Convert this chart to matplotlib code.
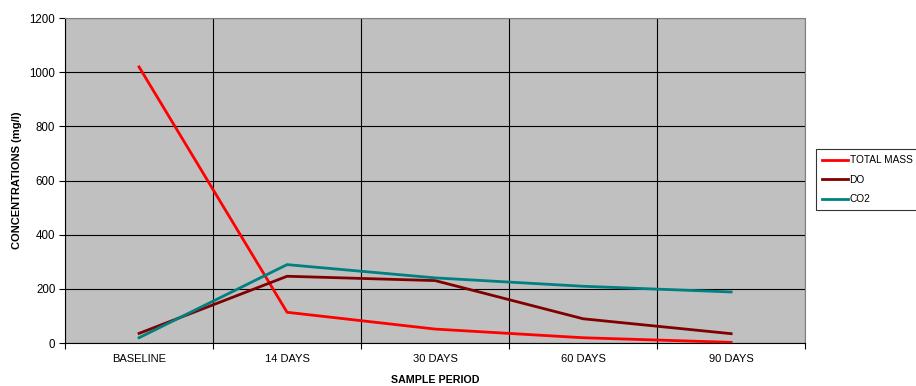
import numpy as np
import matplotlib.pyplot as plt

plt.rcParams["font.family"] = ["Liberation Sans", "DejaVu Sans"]

categories = ['BASELINE', '14 DAYS', '30 DAYS', '60 DAYS', '90 DAYS']
total_mass = [1020, 114, 52, 20, 3]
do = [36, 247, 231, 90, 35]
co2 = [20, 290, 241, 210, 189]

x = np.arange(len(categories))

fig = plt.figure(figsize=(9.16, 3.86), dpi=100)
ax = fig.add_axes([0.071, 0.111, 0.808, 0.842])
ax.set_facecolor('#C0C0C0')

ax.plot(x, total_mass, color='#FF0000', lw=2, label='TOTAL MASS', zorder=3)
ax.plot(x, do, color='#800000', lw=2, label='DO', zorder=3)
ax.plot(x, co2, color='#008080', lw=2, label='CO2', zorder=3)

ax.set_xlim(-0.5, len(categories) - 0.5)
ax.set_ylim(0, 1200)
ax.set_yticks(np.arange(0, 1201, 200))
ax.set_xticks(np.arange(-0.5, len(categories), 1))
ax.set_xticklabels([])
ax.set_xticks(x, minor=True)
ax.set_xticklabels(categories, minor=True)
ax.tick_params(axis='x', which='minor', length=0, pad=8, labelsize=8)
ax.tick_params(axis='x', which='major', length=4, width=0.8, direction='out')
ax.tick_params(axis='y', length=4, width=0.8, labelsize=8.3, pad=3)
ax.grid(True, which='major', color='black', lw=0.8)
ax.set_axisbelow(True)

for s in ['top', 'right']:
    ax.spines[s].set_color('#808080')
for s in ['left', 'bottom']:
    ax.spines[s].set_color('black')

ax.set_xlabel('SAMPLE PERIOD', fontsize=7.7, fontweight='bold', labelpad=8)
ax.set_ylabel('CONCENTRATIONS (mg/l)', fontsize=8, fontweight='bold', labelpad=5)

leg = fig.legend(loc='upper left', bbox_to_anchor=(0.891, 0.614), fontsize=7.3,
                 frameon=True, fancybox=False, edgecolor='black', handlelength=2.5,
                 handletextpad=0.2, borderpad=0.6, labelspacing=0.95, borderaxespad=0)
leg.get_frame().set_linewidth(0.8)

fig.savefig('out.png', dpi=100)
